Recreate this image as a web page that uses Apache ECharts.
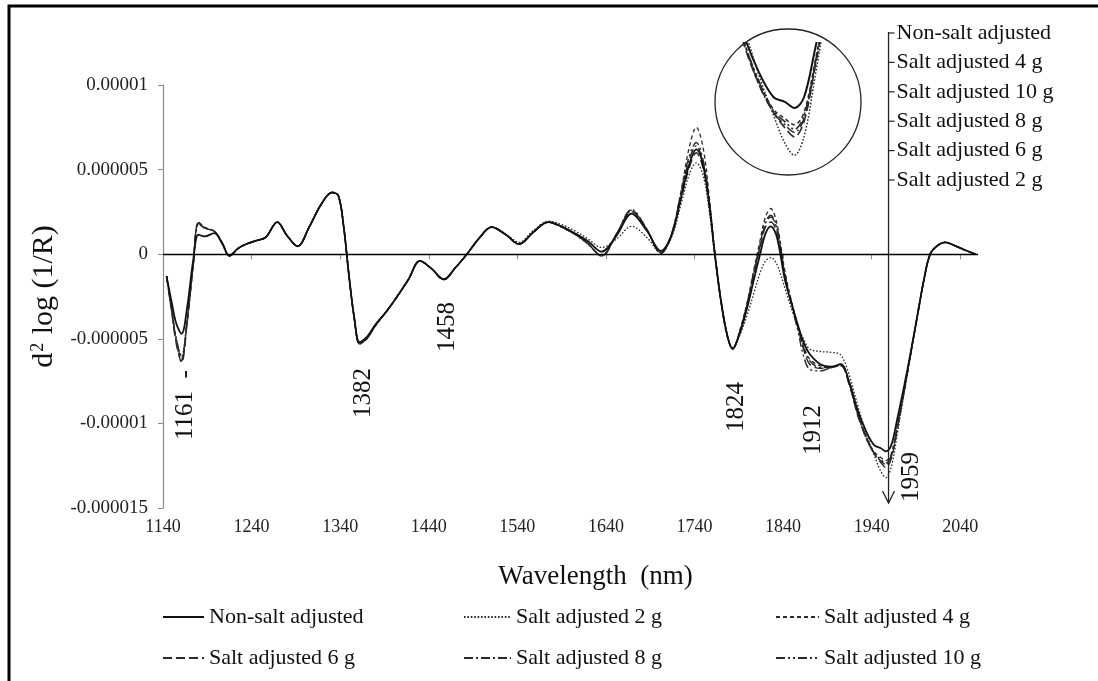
<!DOCTYPE html>
<html>
<head>
<meta charset="utf-8">
<script src="https://cdn.jsdelivr.net/npm/echarts@6/dist/echarts.min.js"></script>
<style>
  html, body { margin: 0; padding: 0; background: #fff; }
  #chart { width: 1098px; height: 681px; }
</style>
</head>
<body>
<div id="chart"></div>
<script>
// Second-derivative NIR spectra, values in units of 1e-6 (d2 log(1/R))
const wavelengths = [1144,1150,1155,1161,1167,1174,1180,1187,1198,1207,1215,1225,1234,1245,1256,1269,1280,1292,1305,1318,1331,1338,1344,1350,1356,1362,1370,1380,1392,1403,1417,1430,1443,1457,1470,1483,1497,1511,1527,1542,1558,1575,1590,1606,1620,1635,1652,1669,1686,1702,1714,1725,1734,1742,1750,1757,1763,1770,1777,1783,1791,1800,1807,1814,1820,1826,1833,1842,1850,1857,1863,1870,1882,1894,1905,1915,1924,1934,1943,1950,1956,1962,1969,1977,1984,1992,1999,2006,2014,2023,2034,2045,2057];

const nonSalt = [-1.3,-2.9,-4.1,-4.7,-3.25,-0.4,1.15,1.05,1.25,0.6,-0.1,0.35,0.6,0.8,1.0,1.9,1.1,0.47,1.6,2.9,3.65,3.45,1.6,-1.3,-3.8,-5.2,-4.9,-4.15,-3.4,-2.6,-1.5,-0.4,-0.85,-1.48,-0.8,0.0,0.95,1.6,1.15,0.6,1.3,1.9,1.65,1.2,0.75,0.15,1.1,2.4,1.4,0.2,1.1,3.4,5.3,6.2,5.2,2.8,0.0,-2.8,-4.8,-5.6,-4.7,-3.05,-1.5,0.0,1.2,1.65,1.0,-1.5,-3.0,-4.25,-5.2,-5.9,-6.5,-6.65,-6.5,-7.6,-9.2,-10.5,-11.3,-11.45,-11.65,-11.3,-9.7,-7.7,-5.8,-3.5,-1.5,0.0,0.5,0.7,0.5,0.25,0.0];
const salt2 = [-1.3,-3.3,-5.0,-6.0,-4.0,-0.7,1.8,1.55,1.35,0.65,-0.1,0.35,0.6,0.8,1.0,1.9,1.1,0.47,1.6,2.9,3.65,3.45,1.6,-1.3,-3.8,-5.2,-4.9,-4.15,-3.4,-2.6,-1.5,-0.4,-0.85,-1.48,-0.8,0.0,0.95,1.6,1.2,0.7,1.4,1.95,1.75,1.35,0.9,0.4,0.9,1.65,1.0,0.1,1.0,3.0,4.7,5.4,4.6,2.4,-0.2,-2.9,-4.8,-5.5,-4.8,-3.5,-2.3,-1.1,-0.4,-0.2,-0.6,-2.0,-3.3,-4.3,-5.0,-5.6,-5.75,-5.8,-5.95,-7.2,-8.9,-10.6,-11.9,-12.8,-13.2,-12.6,-10.6,-8.1,-5.9,-3.6,-1.5,0.0,0.5,0.7,0.5,0.25,0.0];
const salt4 = [-1.3,-3.4,-5.1,-6.2,-4.1,-0.7,1.9,1.6,1.35,0.65,-0.1,0.35,0.6,0.8,1.0,1.9,1.1,0.47,1.6,2.9,3.65,3.45,1.6,-1.3,-3.8,-5.3,-5.0,-4.2,-3.4,-2.6,-1.5,-0.4,-0.85,-1.5,-0.8,0.0,0.95,1.6,1.15,0.6,1.3,1.9,1.6,1.15,0.6,-0.1,1.2,2.6,1.5,0.1,1.2,3.8,6.3,7.5,6.2,3.2,0.0,-2.9,-4.9,-5.6,-4.5,-2.7,-0.9,0.8,2.2,2.7,1.8,-1.0,-2.9,-4.3,-5.4,-6.2,-6.6,-6.7,-6.5,-7.7,-9.4,-10.8,-11.7,-12.0,-12.2,-11.8,-10.1,-7.9,-5.9,-3.5,-1.5,0.0,0.5,0.7,0.5,0.25,0.0];
const salt6 = [-1.3,-3.5,-5.3,-6.4,-4.2,-0.7,1.85,1.55,1.35,0.65,-0.1,0.35,0.6,0.8,1.0,1.9,1.1,0.47,1.6,2.9,3.65,3.45,1.6,-1.3,-3.8,-5.3,-5.0,-4.2,-3.4,-2.6,-1.5,-0.4,-0.85,-1.5,-0.8,0.0,0.95,1.6,1.15,0.6,1.3,1.9,1.6,1.15,0.6,-0.1,1.15,2.5,1.45,0.05,1.1,3.3,5.1,6.0,5.0,2.7,0.0,-2.8,-4.8,-5.6,-4.6,-2.9,-1.2,0.4,1.6,1.9,1.3,-1.3,-3.0,-4.4,-5.6,-6.5,-6.75,-6.7,-6.6,-7.8,-9.5,-10.9,-11.8,-12.3,-12.6,-12.1,-10.3,-8.0,-5.9,-3.5,-1.5,0.0,0.5,0.7,0.5,0.25,0.0];
const salt8 = [-1.3,-3.4,-5.2,-6.3,-4.1,-0.7,1.85,1.55,1.35,0.65,-0.1,0.35,0.6,0.8,1.0,1.9,1.1,0.47,1.6,2.9,3.65,3.45,1.6,-1.3,-3.8,-5.3,-5.0,-4.2,-3.4,-2.6,-1.5,-0.4,-0.85,-1.5,-0.8,0.0,0.95,1.6,1.15,0.6,1.3,1.9,1.6,1.15,0.6,-0.1,1.2,2.55,1.45,0.05,1.15,3.6,5.6,6.4,5.3,2.9,0.0,-2.8,-4.8,-5.6,-4.6,-2.8,-1.1,0.5,1.8,2.2,1.5,-1.2,-3.0,-4.3,-5.5,-6.3,-6.7,-6.7,-6.55,-7.7,-9.4,-10.9,-11.8,-12.2,-12.45,-12.0,-10.2,-8.0,-5.9,-3.5,-1.5,0.0,0.5,0.7,0.5,0.25,0.0];
const salt10 = [-1.3,-3.3,-5.0,-6.1,-4.0,-0.7,1.8,1.55,1.35,0.65,-0.1,0.35,0.6,0.8,1.0,1.9,1.1,0.47,1.6,2.9,3.65,3.45,1.6,-1.3,-3.8,-5.3,-5.0,-4.2,-3.4,-2.6,-1.5,-0.4,-0.85,-1.5,-0.8,0.0,0.95,1.6,1.15,0.6,1.3,1.9,1.6,1.15,0.6,-0.1,1.2,2.65,1.5,0.1,1.2,3.7,5.8,6.6,5.5,3.0,0.0,-2.8,-4.8,-5.6,-4.6,-2.8,-1.0,0.6,1.9,2.3,1.6,-1.2,-3.1,-4.6,-6.0,-6.8,-6.9,-6.7,-6.55,-7.7,-9.4,-10.8,-11.75,-12.1,-12.35,-11.9,-10.2,-7.9,-5.9,-3.5,-1.5,0.0,0.5,0.7,0.5,0.25,0.0];

const seriesNames = ['Non-salt adjusted','Salt adjusted 2 g','Salt adjusted 4 g','Salt adjusted 6 g','Salt adjusted 8 g','Salt adjusted 10 g'];
const seriesValues = [nonSalt, salt2, salt4, salt6, salt8, salt10];

const xTickValues = [1140,1240,1340,1440,1540,1640,1740,1840,1940,2040];
const yTickValues = [-15,-10,-5,0,5,10];
const yTickLabels = ['-0.000015','-0.00001','-0.000005','0','0.000005','0.00001'];

// band positions marked on the plot, and the ordering shown beside the 1959 nm arrow
const bandLabels = ['1161','1382','1458','1824','1912','1959'];
const arrowWavelength = 1959;
const depthOrder = ['Non-salt adjusted','Salt adjusted 4 g','Salt adjusted 10 g','Salt adjusted 8 g','Salt adjusted 6 g','Salt adjusted 2 g'];

const FONT = '"Liberation Serif", "DejaVu Serif", serif';
const INK = '#151515';
const lineStyles = [
  { type: 'solid', width: 1.8 },
  { type: [1.6, 1.8], width: 1.3 },
  { type: [4, 3], width: 1.3 },
  { type: [9, 4], width: 1.4 },
  { type: [9, 3, 2, 3], width: 1.4 },
  { type: [9, 3, 2, 3, 2, 3], width: 1.4 }
];

function pairs(vals) { return wavelengths.map((w, i) => [w, vals[i]]); }

const chart = echarts.init(document.getElementById('chart'), null, { renderer: 'canvas' });

const series = [];
seriesValues.forEach((vals, i) => {
  series.push({
    name: seriesNames[i], type: 'line', xAxisIndex: 0, yAxisIndex: 0,
    data: pairs(vals), smooth: 0.35, symbol: 'none', z: 3 + (i === 0 ? 1 : 0),
    color: INK,
    lineStyle: Object.assign({ color: i === 0 ? '#111' : '#2a2a2a' }, lineStyles[i]),
    markLine: i === 0 ? {
      silent: true, symbol: 'none', label: { show: false },
      lineStyle: { color: '#000', type: 'solid', width: 1.4 },
      data: [{ yAxis: 0 }]
    } : undefined
  });
});
// magnified view of the 1959 nm minimum
seriesValues.forEach((vals, i) => {
  series.push({
    name: seriesNames[i], type: 'line', xAxisIndex: 1, yAxisIndex: 1,
    data: pairs(vals), smooth: 0.35, symbol: 'none', clip: true, color: INK,
    lineStyle: Object.assign({ color: i === 0 ? '#111' : '#2a2a2a' }, lineStyles[i], { width: lineStyles[i].width + 0.2 })
  });
});

const legendText = { fontFamily: FONT, fontSize: 22, color: '#111' };
function legendCol(left, names, w) {
  return { left: left, top: 606, orient: 'vertical', itemGap: 19, itemWidth: w, itemHeight: 14,
           textStyle: legendText, data: names, selectedMode: false, padding: 0,
           itemStyle: { color: 'rgba(0,0,0,0)', borderWidth: 0, borderColor: 'rgba(0,0,0,0)' } };
}

chart.setOption({
  animation: false,
  backgroundColor: '#fff',
  grid: [
    { left: 163, right: 120, top: 85, bottom: 173 },
    { left: 716, top: 43, width: 144, height: 132 }
  ],
  xAxis: [
    {
      type: 'value', min: 1140, max: 2060, interval: 100,
      name: 'Wavelength  (nm)', nameLocation: 'middle', nameGap: 55,
      nameTextStyle: { fontFamily: FONT, fontSize: 27, color: '#111', padding: [0, 0, 0, 50] },
      axisLine: { show: true, lineStyle: { color: '#8a8a8a', width: 1.2 } },
      axisTick: { show: true, length: 5, customValues: xTickValues, lineStyle: { color: '#8a8a8a' } },
      axisLabel: { customValues: xTickValues, fontFamily: FONT, fontSize: 18, color: '#222', margin: 10,
                   formatter: v => String(v) },
      splitLine: { show: false }
    },
    { gridIndex: 1, type: 'value', min: 1907, max: 1997, show: false }
  ],
  yAxis: [
    {
      type: 'value', min: -15, max: 10, interval: 5,
      name: '{t|d}{s|2}{t| log (1/R)}', nameLocation: 'middle', nameGap: 102, nameRotate: 90,
      nameTextStyle: { rich: {
        t: { fontFamily: FONT, fontSize: 30, color: '#111' },
        s: { fontFamily: FONT, fontSize: 18, color: '#111', verticalAlign: 'top', padding: [0, 1, 11, 1] }
      } },
      axisLine: { show: true, onZero: false, lineStyle: { color: '#8a8a8a', width: 1.2 } },
      axisTick: { show: true, length: 5, lineStyle: { color: '#8a8a8a' } },
      axisLabel: {
        fontFamily: FONT, fontSize: 19, color: '#222', margin: 15,
        formatter: v => yTickLabels[yTickValues.indexOf(Math.round(v))] || ''
      },
      splitLine: { show: false }
    },
    { gridIndex: 1, type: 'value', min: -13.85, max: -9.52, show: false }
  ],
  legend: [
    legendCol(162, ['Non-salt adjusted', 'Salt adjusted 6 g'], 41),
    legendCol(463, ['Salt adjusted 2 g', 'Salt adjusted 8 g'], 47),
    legendCol(775, ['Salt adjusted 4 g', 'Salt adjusted 10 g'], 43)
  ],
  series: series
});

// annotations placed from the axes' own scales
const ax = chart.convertToPixel({ xAxisIndex: 0 }, arrowWavelength);
const yBottom = chart.convertToPixel({ yAxisIndex: 0 }, -15);
const bandPos = [[185, 440], [363, 393], [447, 327], [736, 407], [813, 430], [911, 477]];
const graphics = [
  // frame
  { type: 'rect', shape: { x: 9, y: 6, width: 1300, height: 900 }, style: { fill: 'none', stroke: '#000', lineWidth: 3 }, silent: true },
  // magnifier circle
  { type: 'circle', shape: { cx: 788, cy: 102, r: 73 }, style: { fill: 'none', stroke: '#222', lineWidth: 1.3 }, silent: true, z: 10 },
  // arrow
  { type: 'line', shape: { x1: ax, y1: 32, x2: ax, y2: yBottom - 5 }, style: { stroke: '#222', lineWidth: 1.3 }, z: 10 },
  { type: 'polyline', shape: { points: [[ax - 6, yBottom - 17], [ax, yBottom - 5], [ax + 6, yBottom - 17]] }, style: { stroke: '#222', lineWidth: 1.3, fill: 'none' }, z: 10 }
];
depthOrder.forEach((name, i) => {
  const y = 33 + i * 29.4;
  graphics.push({ type: 'line', shape: { x1: ax, y1: y, x2: ax + 6, y2: y }, style: { stroke: '#222', lineWidth: 1.2 }, z: 10 });
  graphics.push({ type: 'text', x: ax + 8, y: y, style: { text: name, font: '22px ' + FONT, fill: '#111', textVerticalAlign: 'middle', textAlign: 'left' }, z: 10 });
});
bandLabels.forEach((t, i) => {
  graphics.push({ type: 'text', x: bandPos[i][0], y: bandPos[i][1], rotation: Math.PI / 2,
    style: { text: i === 0 ? t + '  -' : t, font: '25px ' + FONT, fill: '#111', textAlign: i === 0 ? 'left' : 'center', textVerticalAlign: 'middle' }, z: 10 });
});
chart.setOption({ graphic: graphics });
</script>
</body>
</html>
